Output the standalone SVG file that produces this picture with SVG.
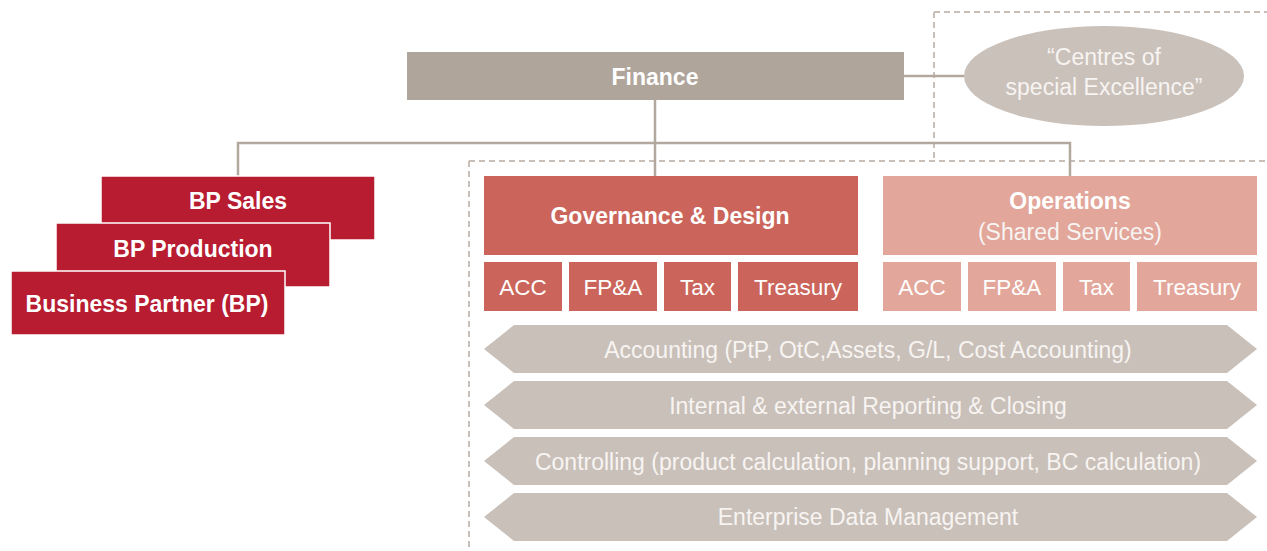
<svg xmlns="http://www.w3.org/2000/svg" width="1267" height="551" viewBox="0 0 1267 551">
<style>
text{font-family:"Liberation Sans",Arial,sans-serif;fill:#fff;text-anchor:middle;dominant-baseline:central}
.b{font-weight:bold;font-size:23px}
.r{font-size:22.5px}
.a{font-size:23px;fill:#f7f4f2}
.bp{fill:#b71c31;stroke:#fff;stroke-width:1.5}
.gov{fill:#cb655b}
.ops{fill:#e2a69a}
.arr{fill:#c9c0b9}
.ln{stroke:#b3a89e;stroke-width:2.5;fill:none}
.dash{stroke:#c8bfb8;stroke-width:2;fill:none;stroke-dasharray:6 4}
</style>
<g id="dashed-frames">
<path class="dash" d="M934,12 H1267 M934,12 V160 M469,161 H1267 M469,161 V551"/>
</g>
<g id="connectors">
<path class="ln" d="M238,176 V143 H1070 V176"/>
<path class="ln" d="M655,100 V176"/>
<path class="ln" d="M904,76 H964"/>
</g>
<g id="finance"><rect x="407" y="52" width="497" height="48" fill="#afa59b"/><text class="b" x="655" y="77">Finance</text></g>
<g id="centres"><ellipse cx="1104" cy="76" rx="140" ry="50" fill="#cac1ba"/><text class="a" x="1104" y="57">“Centres of</text><text class="a" x="1104" y="87">special Excellence”</text></g>
<g id="bp-sales"><rect class="bp" x="101" y="176" width="274" height="64"/><text class="b" x="238" y="201">BP Sales</text></g>
<g id="bp-production"><rect class="bp" x="56" y="223" width="274" height="64"/><text class="b" x="193" y="249">BP Production</text></g>
<g id="business-partner"><rect class="bp" x="11" y="271" width="274" height="64"/><text class="b" x="147" y="304">Business Partner (BP)</text></g>
<g id="governance"><rect class="gov" x="484" y="176" width="374" height="79"/><text class="b" x="670" y="216">Governance &amp; Design</text></g>
<g id="gov-acc"><rect class="gov" x="484" y="262" width="78" height="49"/><text class="r" x="523" y="287">ACC</text></g>
<g id="gov-fpa"><rect class="gov" x="569" y="262" width="88" height="49"/><text class="r" x="613" y="287">FP&amp;A</text></g>
<g id="gov-tax"><rect class="gov" x="664" y="262" width="67" height="49"/><text class="r" x="697.5" y="287">Tax</text></g>
<g id="gov-treasury"><rect class="gov" x="738" y="262" width="120" height="49"/><text class="r" x="798" y="287">Treasury</text></g>
<g id="operations"><rect class="ops" x="883" y="176" width="374" height="79"/><text class="b" x="1070" y="201">Operations</text><text class="a" x="1070" y="232">(Shared Services)</text></g>
<g id="ops-acc"><rect class="ops" x="883" y="262" width="78" height="49"/><text class="r" x="922" y="287">ACC</text></g>
<g id="ops-fpa"><rect class="ops" x="968" y="262" width="88" height="49"/><text class="r" x="1012" y="287">FP&amp;A</text></g>
<g id="ops-tax"><rect class="ops" x="1063" y="262" width="67" height="49"/><text class="r" x="1096.5" y="287">Tax</text></g>
<g id="ops-treasury"><rect class="ops" x="1137" y="262" width="120" height="49"/><text class="r" x="1197" y="287">Treasury</text></g>
<g id="accounting"><path class="arr" d="M484,349 L514,325 H1227 L1257,349 L1227,373 H514 Z"/><text class="a" x="868" y="350">Accounting (PtP, OtC,Assets, G/L, Cost Accounting)</text></g>
<g id="reporting"><path class="arr" d="M484,405 L514,381 H1227 L1257,405 L1227,429 H514 Z"/><text class="a" x="868" y="406">Internal &amp; external Reporting &amp; Closing</text></g>
<g id="controlling"><path class="arr" d="M484,461 L514,437 H1227 L1257,461 L1227,485 H514 Z"/><text class="a" x="868" y="462">Controlling (product calculation, planning support, BC calculation)</text></g>
<g id="edm"><path class="arr" d="M484,517 L514,493 H1227 L1257,517 L1227,541 H514 Z"/><text class="a" x="868" y="517">Enterprise Data Management</text></g>
</svg>
